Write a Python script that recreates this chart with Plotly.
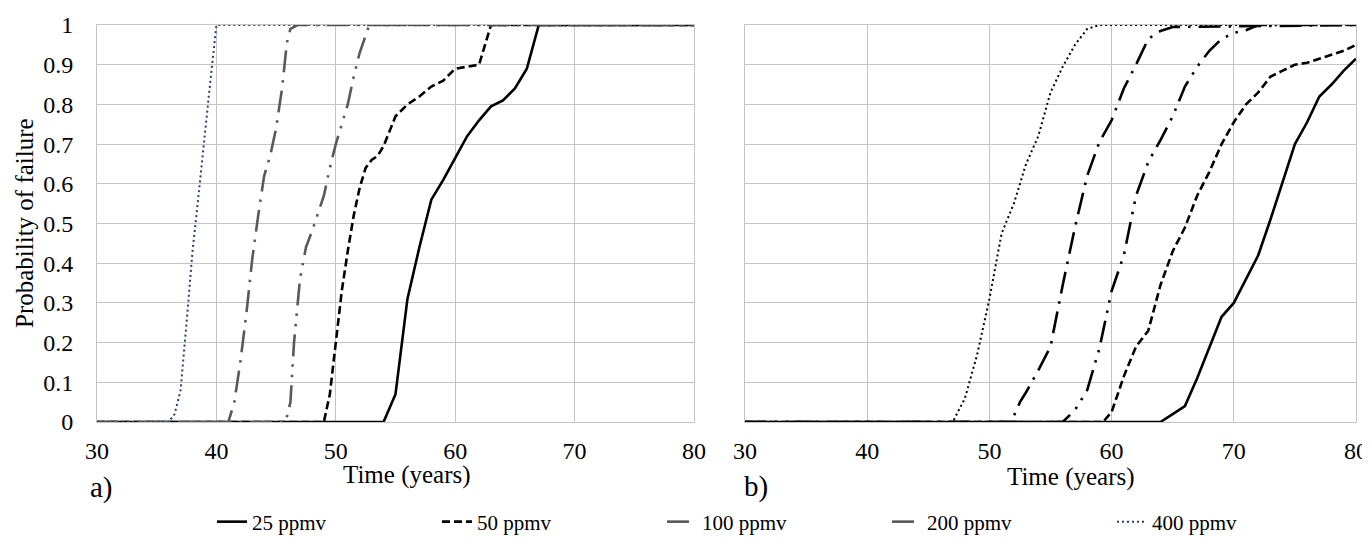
import plotly.graph_objects as go

# ---- data: time (years) vs probability of failure ----
series_names = ["25 ppmv", "50 ppmv", "100 ppmv", "200 ppmv", "400 ppmv"]

# panel a)
a25_t = [30, 54, 55, 56, 57, 58, 59, 60, 61, 62, 63, 64, 65, 66, 67, 80]
a25_p = [0, 0, 0.07, 0.31, 0.44, 0.56, 0.61, 0.665, 0.72, 0.76, 0.795, 0.81, 0.84, 0.89, 1.0, 1.0]

a50_t = [30, 49, 49.5, 50, 50.5, 51, 51.5, 52, 52.5, 53, 53.5, 54, 55, 56, 57, 58, 59, 60, 61, 62, 63, 80]
a50_p = [0, 0, 0.07, 0.2, 0.33, 0.43, 0.52, 0.59, 0.64, 0.66, 0.67, 0.695, 0.77, 0.80, 0.82, 0.845,
         0.86, 0.89, 0.895, 0.90, 1.0, 1.0]

a100_t = [30, 45.8, 46.2, 46.5, 47, 47.5, 48, 49, 49.5, 50, 50.5, 51, 51.5, 52, 52.8, 80]
a100_p = [0, 0, 0.05, 0.2, 0.36, 0.44, 0.48, 0.57, 0.64, 0.7, 0.75, 0.8, 0.87, 0.93, 1.0, 1.0]

a200_t = [30, 41, 41.5, 42, 42.5, 43, 43.5, 44, 44.5, 45, 45.5, 45.9, 46.2, 46.8, 80]
a200_p = [0, 0, 0.05, 0.15, 0.27, 0.41, 0.52, 0.62, 0.67, 0.74, 0.84, 0.955, 0.99, 1.0, 1.0]

a400_t = [30, 36, 36.5, 37, 37.5, 38, 38.5, 39, 39.5, 40, 80]
a400_p = [0, 0, 0.02, 0.08, 0.25, 0.43, 0.57, 0.72, 0.86, 1.0, 1.0]

# panel b)
b25_t = [30, 64, 65, 66, 67, 68, 69, 70, 71, 72, 73, 74, 75, 76, 77, 78, 79, 80]
b25_p = [0, 0, 0.02, 0.04, 0.11, 0.19, 0.265, 0.30, 0.36, 0.42, 0.51, 0.605, 0.70, 0.755, 0.82,
         0.85, 0.885, 0.915]

b50_t = [30, 59.3, 60, 61, 62, 63, 64, 65, 66, 67, 68, 69, 70, 71, 72, 73, 74, 75, 76, 77, 78, 79, 80]
b50_p = [0, 0, 0.025, 0.115, 0.19, 0.23, 0.345, 0.43, 0.49, 0.57, 0.63, 0.70, 0.755, 0.80, 0.83,
         0.87, 0.885, 0.90, 0.905, 0.915, 0.925, 0.935, 0.95]

b100_t = [30, 56, 57, 58, 59, 60, 61, 62, 63, 64, 65, 66, 67, 68, 69, 70, 71, 72, 80]
b100_p = [0, 0, 0.03, 0.08, 0.185, 0.33, 0.42, 0.57, 0.655, 0.71, 0.77, 0.845, 0.895, 0.935,
          0.965, 0.98, 0.987, 1.0, 1.0]

b200_t = [30, 51.7, 52, 52.5, 53, 54, 55, 56, 57, 58, 59, 60, 61, 62, 63, 64, 65, 80]
b200_p = [0, 0, 0.015, 0.05, 0.075, 0.13, 0.19, 0.345, 0.49, 0.62, 0.705, 0.76, 0.84, 0.90,
          0.965, 0.985, 0.995, 1.0]

b400_t = [30, 47, 48, 49, 50, 51, 52, 53, 54, 55, 56, 57, 58, 59, 80]
b400_p = [0, 0, 0.06, 0.17, 0.31, 0.475, 0.55, 0.65, 0.72, 0.83, 0.895, 0.95, 0.99, 1.0, 1.0]

x_ticks = [30, 40, 50, 60, 70, 80]
y_ticks = [0, 0.1, 0.2, 0.3, 0.4, 0.5, 0.6, 0.7, 0.8, 0.9, 1]
y_tick_text = ["0", "0.1", "0.2", "0.3", "0.4", "0.5", "0.6", "0.7", "0.8", "0.9", "1"]

panel_a = [(a25_t, a25_p), (a50_t, a50_p), (a100_t, a100_p), (a200_t, a200_p), (a400_t, a400_p)]
panel_b = [(b25_t, b25_p), (b50_t, b50_p), (b100_t, b100_p), (b200_t, b200_p), (b400_t, b400_p)]

# ---- styling ----
FONT = "Liberation Serif, Times New Roman, serif"
GRID = "#c4c4c4"
dashes = ["solid", "8px,4px", "22px,8px,2.5px,8px,2.5px,8px", "22px,8px,2.5px,8px", "2px,3px"]
widths = [2.6, 2.6, 2.6, 2.6, 2.0]
colors_a = ["#000000", "#000000", "#595959", "#595959", "#243f7a"]
colors_b = ["#000000", "#000000", "#000000", "#000000", "#000000"]

fig = go.Figure()

for i, (t, p) in enumerate(panel_a):
    fig.add_trace(go.Scatter(
        x=t, y=p, mode="lines", name=series_names[i], legendgroup=series_names[i],
        line=dict(color=colors_a[i], width=widths[i], dash=dashes[i]),
        xaxis="x", yaxis="y"))

for i, (t, p) in enumerate(panel_b):
    fig.add_trace(go.Scatter(
        x=t, y=p, mode="lines", name=series_names[i], legendgroup=series_names[i],
        showlegend=False,
        line=dict(color=colors_b[i], width=widths[i], dash=dashes[i]),
        xaxis="x2", yaxis="y2"))

# the page body has an 8px margin, so the figure is drawn 8px smaller and
# positions are given in window pixels minus that offset
OFF = 8
W, H = 1370 - OFF, 540 - OFF


def px_x(v):
    return (v - OFF) / W


def px_y(v):
    return 1 - (v - OFF) / H


axis_common = dict(
    range=[30, 80], tickvals=x_ticks, showgrid=True, gridcolor=GRID, gridwidth=1,
    showline=True, linecolor=GRID, linewidth=1, mirror=True, zeroline=False,
    ticks="", ticklabelstandoff=7,
    tickfont=dict(family=FONT, size=24, color="#000000"),
)
yaxis_common = dict(
    range=[0, 1], tickvals=y_ticks, ticktext=y_tick_text, showgrid=True, gridcolor=GRID,
    gridwidth=1, showline=True, linecolor=GRID, linewidth=1, mirror=True, zeroline=False,
    ticks="", ticklabelstandoff=18,
    tickfont=dict(family=FONT, size=24, color="#000000"),
    domain=[px_y(422), px_y(25)],
)


def label(text, x, y, size=25, angle=0):
    return dict(text=text, x=px_x(x), y=px_y(y), xref="paper", yref="paper",
                xanchor="center", yanchor="middle", showarrow=False, textangle=angle,
                font=dict(family=FONT, size=size, color="#000000"))


fig.update_layout(
    width=W, height=H,
    margin=dict(l=0, r=0, t=0, b=0, autoexpand=False),
    paper_bgcolor="white", plot_bgcolor="white",
    font=dict(family=FONT, size=24, color="#000000"),
    xaxis=dict(axis_common, domain=[px_x(97), px_x(694)], anchor="y"),
    yaxis=dict(yaxis_common, anchor="x"),
    xaxis2=dict(axis_common, domain=[px_x(745), px_x(1356)], anchor="y2"),
    yaxis2=dict(yaxis_common, anchor="x2", showticklabels=False),
    legend=dict(
        orientation="h", x=px_x(212), y=px_y(522), xanchor="left", yanchor="middle",
        font=dict(family=FONT, size=21, color="#000000"),
        entrywidthmode="pixels", entrywidth=180, bgcolor="rgba(0,0,0,0)",
    ),
    annotations=[
        label("Probability of failure", 24, 223, angle=-90),
        label("Time (years)", 407, 475),
        label("Time (years)", 1071, 477),
        label("a)", 101, 487, size=29),
        label("b)", 756, 486, size=29),
    ],
)

fig.write_html("out.html")
